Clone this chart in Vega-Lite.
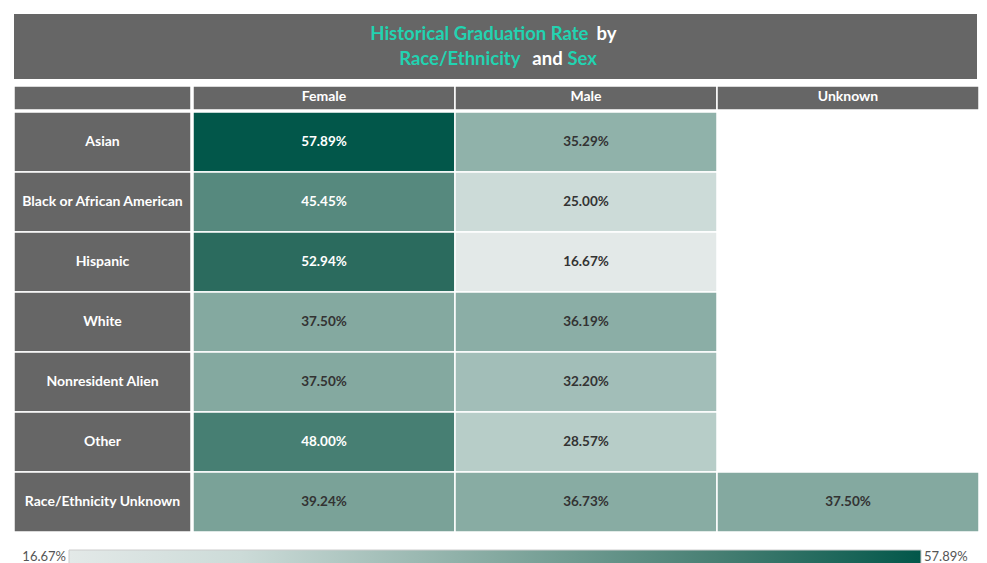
{
  "$schema": "https://vega.github.io/schema/vega-lite/v6.json",
  "background": "white",
  "padding": {"left": 13, "top": 14, "right": 0, "bottom": 0},
  "config": {
    "view": {"stroke": null},
    "font": "Lato",
    "concat": {"spacing": 0}
  },
  "datasets": {
    "rates": [
      {"race": "Asian", "sex": "Female", "rate": 0.5789},
      {"race": "Asian", "sex": "Male", "rate": 0.3529},
      {"race": "Black or African American", "sex": "Female", "rate": 0.4545},
      {"race": "Black or African American", "sex": "Male", "rate": 0.25},
      {"race": "Hispanic", "sex": "Female", "rate": 0.5294},
      {"race": "Hispanic", "sex": "Male", "rate": 0.1667},
      {"race": "White", "sex": "Female", "rate": 0.375},
      {"race": "White", "sex": "Male", "rate": 0.3619},
      {"race": "Nonresident Alien", "sex": "Female", "rate": 0.375},
      {"race": "Nonresident Alien", "sex": "Male", "rate": 0.322},
      {"race": "Other", "sex": "Female", "rate": 0.48},
      {"race": "Other", "sex": "Male", "rate": 0.2857},
      {"race": "Race/Ethnicity Unknown", "sex": "Female", "rate": 0.3924},
      {"race": "Race/Ethnicity Unknown", "sex": "Male", "rate": 0.3673},
      {"race": "Race/Ethnicity Unknown", "sex": "Unknown", "rate": 0.375}
    ],
    "races": [
      {"race": "Asian"},
      {"race": "Black or African American"},
      {"race": "Hispanic"},
      {"race": "White"},
      {"race": "Nonresident Alien"},
      {"race": "Other"},
      {"race": "Race/Ethnicity Unknown"}
    ],
    "sexes": [
      {"sex": "Female"},
      {"sex": "Male"},
      {"sex": "Unknown"}
    ],
    "title": [
      {"line": "1", "seg": "Historical Graduation Rate", "part": "a"},
      {"line": "1", "seg": "by", "part": "b"},
      {"line": "2", "seg": "Race/Ethnicity", "part": "c"},
      {"line": "2", "seg": "and", "part": "d"},
      {"line": "2", "seg": "Sex", "part": "e"}
    ],
    "range": [
      {"lo": 0.1667, "hi": 0.5789}
    ]
  },
  "spacing": 6,
  "vconcat": [
    {
      "width": 963,
      "height": 65,
      "data": {"name": "title"},
      "layer": [
        {"transform": [{"filter": "datum.part == 'a'"}],
         "mark": {"type": "rect", "fill": "#666666"},
         "encoding": {
           "x": {"datum": "c", "type": "nominal", "axis": null, "scale": {"domain": ["c"], "paddingInner": 0, "paddingOuter": 0}},
           "y": {"datum": "c", "type": "nominal", "axis": null, "scale": {"domain": ["c"], "paddingInner": 0, "paddingOuter": 0}}
         }},
        {
          "encoding": {
            "x": {"datum": "c", "type": "nominal", "axis": null, "scale": {"domain": ["c"], "paddingInner": 0, "paddingOuter": 0}},
            "y": {"field": "line", "type": "ordinal", "axis": null,
                  "scale": {"type": "band", "domain": ["1", "2"], "paddingInner": 0, "paddingOuter": 0.3}},
            "text": {"field": "seg"}
          },
          "layer": [
            {"transform": [{"filter": "datum.part == 'a'"}],
             "mark": {"type": "text", "dx": 93, "align": "right", "fontSize": 18.5, "fontWeight": "bold", "color": "#22d3b1"}},
            {"transform": [{"filter": "datum.part == 'b'"}],
             "mark": {"type": "text", "dx": 101, "align": "left", "fontSize": 18.5, "fontWeight": "bold", "color": "white"}},
            {"transform": [{"filter": "datum.part == 'c'"}],
             "mark": {"type": "text", "dx": 25, "align": "right", "fontSize": 18.5, "fontWeight": "bold", "color": "#22d3b1"}},
            {"transform": [{"filter": "datum.part == 'd'"}],
             "mark": {"type": "text", "dx": 52, "align": "center", "fontSize": 18.5, "fontWeight": "bold", "color": "white"}},
            {"transform": [{"filter": "datum.part == 'e'"}],
             "mark": {"type": "text", "dx": 72, "align": "left", "fontSize": 18.5, "fontWeight": "bold", "color": "#22d3b1"}}
          ]
        }
      ],
      "resolve": {"scale": {"y": "independent"}}
    },
    {
      "spacing": 16,
      "vconcat": [
        {
          "spacing": 0,
          "vconcat": [
            {
              "hconcat": [
                {
                  "width": 177,
                  "height": 24,
                  "data": {"values": [{"k": "corner"}]},
                  "encoding": {
                    "x": {"field": "k", "type": "nominal", "axis": null, "scale": {"paddingInner": 0, "paddingOuter": 0}},
                    "y": {"field": "k", "type": "nominal", "axis": null, "scale": {"paddingInner": 0, "paddingOuter": 0}}
                  },
                  "mark": {"type": "rect", "fill": "#666666", "stroke": "white", "strokeWidth": 1.5}
                },
                {
                  "width": 786,
                  "height": 24,
                  "data": {"name": "sexes"},
                  "encoding": {
                    "x": {"field": "sex", "type": "nominal", "axis": null,
                          "scale": {"domain": ["Female", "Male", "Unknown"], "paddingInner": 0, "paddingOuter": 0}},
                    "y": {"datum": "h", "type": "nominal", "axis": null, "scale": {"domain": ["h"], "paddingInner": 0, "paddingOuter": 0}}
                  },
                  "layer": [
                    {"mark": {"type": "rect", "fill": "#666666", "stroke": "white", "strokeWidth": 1.5}},
                    {"mark": {"type": "text", "color": "white", "fontWeight": "bold", "fontSize": 14, "dy": -1},
                     "encoding": {"text": {"field": "sex"}}}
                  ]
                }
              ],
              "spacing": 0
            },
            {
              "hconcat": [
                {
                  "width": 177,
                  "height": 420,
                  "data": {"name": "races"},
                  "encoding": {
                    "x": {"datum": "l", "type": "nominal", "axis": null, "scale": {"domain": ["l"], "paddingInner": 0, "paddingOuter": 0}},
                    "y": {"field": "race", "type": "nominal", "axis": null,
                          "scale": {"domain": ["Asian", "Black or African American", "Hispanic", "White", "Nonresident Alien", "Other", "Race/Ethnicity Unknown"], "paddingInner": 0, "paddingOuter": 0}}
                  },
                  "layer": [
                    {"mark": {"type": "rect", "fill": "#666666", "stroke": "white", "strokeWidth": 1.5}},
                    {"mark": {"type": "text", "color": "white", "fontWeight": "bold", "fontSize": 14},
                     "encoding": {"text": {"field": "race"}}}
                  ]
                },
                {
                  "width": 786,
                  "height": 420,
                  "data": {"name": "rates"},
                  "encoding": {
                    "x": {"field": "sex", "type": "nominal", "axis": null,
                          "scale": {"domain": ["Female", "Male", "Unknown"], "paddingInner": 0, "paddingOuter": 0}},
                    "y": {"field": "race", "type": "nominal", "axis": null,
                          "scale": {"domain": ["Asian", "Black or African American", "Hispanic", "White", "Nonresident Alien", "Other", "Race/Ethnicity Unknown"], "paddingInner": 0, "paddingOuter": 0}}
                  },
                  "layer": [
                    {"mark": {"type": "rect", "stroke": "white", "strokeWidth": 1.5},
                     "encoding": {
                       "fill": {"field": "rate", "type": "quantitative", "legend": null,
                                "scale": {"type": "linear", "domain": [0.1667, 0.25, 0.375, 0.48, 0.5789],
                                          "range": ["#e3e9e8", "#ccdbd8", "#84a9a0", "#477f73", "#02574a"]}}
                     }},
                    {"mark": {"type": "text", "fontWeight": "bold", "fontSize": 13.5},
                     "encoding": {
                       "text": {"field": "rate", "type": "quantitative", "format": ".2%"},
                       "color": {"condition": {"test": "datum.rate > 0.44", "value": "white"}, "value": "#333333"}
                     }}
                  ]
                }
              ],
              "spacing": 0
            }
          ]
        },
        {
          "width": 963,
          "height": 15,
          "data": {"name": "range"},
          "encoding": {
            "y": {"datum": "g", "type": "nominal", "axis": null, "scale": {"domain": ["g"], "paddingInner": 0, "paddingOuter": 0}}
          },
          "layer": [
            {"mark": {"type": "rect", "stroke": "#cccccc", "strokeWidth": 1,
                      "fill": {"gradient": "linear", "x1": 0, "x2": 1, "y1": 0, "y2": 0,
                               "stops": [
                                 {"offset": 0, "color": "#e3e9e8"},
                                 {"offset": 0.202, "color": "#ccdbd8"},
                                 {"offset": 0.505, "color": "#84a9a0"},
                                 {"offset": 0.76, "color": "#477f73"},
                                 {"offset": 1, "color": "#02574a"}]}},
             "encoding": {
               "x": {"field": "lo", "type": "quantitative", "axis": null, "scale": {"domain": [0.1667, 0.5789], "range": [55, 907], "zero": false, "nice": false}},
               "x2": {"field": "hi"}
             }},
            {"mark": {"type": "text", "align": "right", "dx": -3, "dy": -1, "color": "#555555", "fontSize": 13},
             "encoding": {
               "x": {"field": "lo", "type": "quantitative", "axis": null, "scale": {"domain": [0.1667, 0.5789], "range": [55, 907], "zero": false, "nice": false}},
               "text": {"field": "lo", "type": "quantitative", "format": ".2%"}
             }},
            {"mark": {"type": "text", "align": "left", "dx": 3, "dy": -1, "color": "#555555", "fontSize": 13},
             "encoding": {
               "x": {"field": "hi", "type": "quantitative", "axis": null, "scale": {"domain": [0.1667, 0.5789], "range": [55, 907], "zero": false, "nice": false}},
               "text": {"field": "hi", "type": "quantitative", "format": ".2%"}
             }}
          ]
        }
      ]
    }
  ]
}
